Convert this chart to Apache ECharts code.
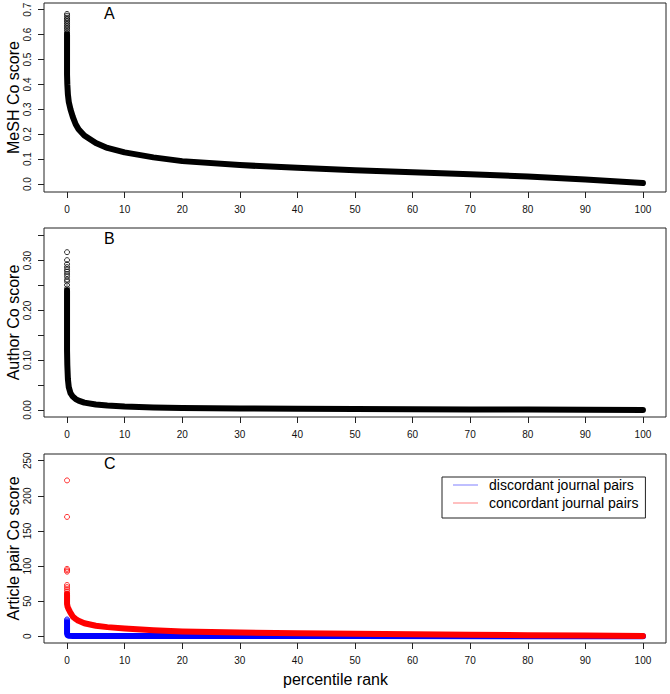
<!DOCTYPE html>
<html>
<head>
<meta charset="utf-8">
<script src="https://cdn.jsdelivr.net/npm/echarts@6/dist/echarts.min.js"></script>
<style>html,body{margin:0;padding:0;background:#fff}#c{width:670px;height:694px}</style>
</head>
<body>
<div id="c"></div>
<script>
// ---- data ----
const xTicks = [0,10,20,30,40,50,60,70,80,90,100];

// Panel A: MeSH Co score
const pctA   = [0, 0, 0.05, 0.15, 0.3, 0.6, 1, 1.5, 2, 3, 5, 7, 10, 15, 20, 30, 40, 50, 60, 70, 80, 90, 100];
const meshA  = [0.60, 0.44, 0.40, 0.36, 0.33, 0.30, 0.27, 0.24, 0.22, 0.195, 0.165, 0.145, 0.127, 0.107, 0.092, 0.076, 0.065, 0.055, 0.047, 0.039, 0.030, 0.018, 0.004];
const outPctA = [0,0,0,0,0,0,0,0,0,0,0,0];
const outA   = [0.683, 0.676, 0.668, 0.662, 0.655, 0.648, 0.641, 0.634, 0.627, 0.620, 0.612, 0.605];
const yTicksA = [0,0.1,0.2,0.3,0.4,0.5,0.6,0.7];

// Panel B: Author Co score
const pctB   = [0, 0, 0.05, 0.15, 0.3, 0.6, 1, 1.5, 2, 3, 5, 7, 10, 15, 20, 30, 40, 50, 60, 70, 80, 90, 100];
const authB  = [0.24, 0.12, 0.09, 0.062, 0.046, 0.034, 0.027, 0.022, 0.019, 0.0148, 0.011, 0.009, 0.007, 0.0052, 0.0042, 0.0032, 0.0026, 0.0021, 0.0017, 0.0013, 0.0009, 0.0005, 0.0001];
const outPctB = [0,0,0,0,0,0,0,0,0,0,0,0];
const outB   = [0.317, 0.301, 0.293, 0.287, 0.282, 0.278, 0.273, 0.268, 0.262, 0.258, 0.251, 0.244];
const yTicksB = [0,0.05,0.1,0.15,0.2,0.25,0.3,0.35];
const yLabelsB = [0,0.1,0.2,0.3];

// Panel C: Article pair Co score
const pctC     = [0, 0, 0.1, 0.25, 0.5, 1, 1.5, 2, 3, 5, 7, 10, 15, 20, 30, 40, 50, 60, 70, 80, 90, 100];
const concordC = [60, 46, 42, 39, 35, 28, 24.5, 22, 18.5, 15, 13, 11, 8.5, 6.8, 5.2, 4.2, 3.4, 2.7, 2.1, 1.6, 1.1, 0.5];
const pctD     = [0, 0, 0.1, 0.3, 1, 5, 20, 50, 100];
const discordC = [20, 4, 1.5, 0.8, 0.5, 0.4, 0.3, 0.2, 0.1];
const outPctRed = [0,0,0,0,0,0,0,0,0,0];
const outRed    = [222, 170, 96, 94, 92, 73, 70, 67, 64, 61];
const outPctBlue = [0,0,0];
const outBlue    = [24, 22.5, 21];
const yTicksC = [0,50,100,150,200,250];

const seriesNames = ['discordant journal pairs', 'concordant journal pairs'];

// ---- helpers ----
const zip = (xs, ys) => xs.map((x, i) => [x, ys[i]]);
const FONT = 'Liberation Sans, Arial, sans-serif';
const grids = [
  {left: 44, top: 3,   width: 622, height: 189},
  {left: 44, top: 228, width: 622, height: 189},
  {left: 44, top: 454, width: 622, height: 189}
].map(g => Object.assign(g, {show: true, borderColor: '#222', borderWidth: 1, backgroundColor: 'transparent',
                              containLabel: false, outerBoundsMode: 'none'}));

function xAxis(i) {
  return {
    type: 'value', gridIndex: i, min: -4, max: 104, position: 'bottom',
    axisLine: {show: false, onZero: false},
    axisTick: {show: true, inside: false, length: 6, customValues: xTicks, lineStyle: {color: '#222'}},
    axisLabel: {show: true, customValues: xTicks, margin: 12, fontSize: 10, fontFamily: FONT, color: '#111'},
    splitLine: {show: false}
  };
}
function yAxis(i, min, max, ticks, labels, fmt, name) {
  return {
    type: 'value', gridIndex: i, min: min, max: max, position: 'left',
    name: name, nameLocation: 'middle', nameRotate: 90, nameGap: 23, nameMoveOverlap: false,
    nameTextStyle: {fontSize: 16, fontFamily: FONT, color: '#000'},
    axisLine: {show: false, onZero: false},
    axisTick: {show: true, inside: false, length: 6, customValues: ticks, lineStyle: {color: '#222'}},
    axisLabel: {show: true, customValues: labels, rotate: 90, margin: 12, fontSize: 10, fontFamily: FONT, color: '#111', formatter: fmt},
    splitLine: {show: false}
  };
}
function thick(i, data, color, name) {
  return {
    type: 'line', name: name, xAxisIndex: i, yAxisIndex: i, data: data,
    symbol: 'none', smooth: false, clip: false, animation: false,
    lineStyle: {color: color, width: 6, cap: 'round', join: 'round'},
    itemStyle: {color: color}, z: 3
  };
}
function circles(i, data, color) {
  return {
    type: 'scatter', xAxisIndex: i, yAxisIndex: i, data: data,
    symbol: 'circle', symbolSize: 5, clip: false, animation: false,
    itemStyle: {color: 'rgba(0,0,0,0)', borderColor: color, borderWidth: 1}, z: 4
  };
}

const chart = echarts.init(document.getElementById('c'), null, {renderer: 'svg', width: 670, height: 694});
chart.setOption({
  backgroundColor: '#fff',
  animation: false,
  grid: grids,
  title: [
    {text: 'A', left: 104, top: 5, padding: 0, textStyle: {fontSize: 16, fontWeight: 'normal', fontFamily: FONT, color: '#000'}},
    {text: 'B', left: 104, top: 230, padding: 0, textStyle: {fontSize: 16, fontWeight: 'normal', fontFamily: FONT, color: '#000'}},
    {text: 'C', left: 104, top: 455, padding: 0, textStyle: {fontSize: 16, fontWeight: 'normal', fontFamily: FONT, color: '#000'}}
  ],
  legend: {
    orient: 'vertical', left: 442, top: 477,
    data: [
      {name: seriesNames[0], itemStyle: {color: '#7f7fff'}},
      {name: seriesNames[1], itemStyle: {color: '#ff8080'}}
    ],
    icon: 'rect', itemWidth: 25, itemHeight: 1, itemGap: 2,
    padding: [0, 7, 7, 11],
    borderColor: '#222', borderWidth: 1, backgroundColor: '#fff',
    textStyle: {fontSize: 14, fontFamily: FONT, color: '#000', lineHeight: 16, padding: [0, 0, 0, 6]},
    selectedMode: false
  },
  xAxis: [xAxis(0), xAxis(1), xAxis(2)],
  yAxis: [
    yAxis(0, -0.032, 0.727, yTicksA, yTicksA, v => v.toFixed(1), 'MeSH Co score'),
    yAxis(1, -0.014, 0.3655, yTicksB, yLabelsB, v => v.toFixed(2), 'Author Co score'),
    yAxis(2, -9.6, 259.6, yTicksC, yTicksC, v => String(v), 'Article pair Co score')
  ],
  graphic: [
    {type: 'text', left: 283, top: 671, style: {text: 'percentile rank', font: '16px ' + FONT, fill: '#000'}}
  ],
  series: [
    thick(0, zip(pctA, meshA), '#000'),
    circles(0, zip(outPctA, outA), '#000'),
    thick(1, zip(pctB, authB), '#000'),
    circles(1, zip(outPctB, outB), '#000'),
    thick(2, zip(pctD, discordC), '#0000ff', seriesNames[0]),
    circles(2, zip(outPctBlue, outBlue), '#0000ff'),
    thick(2, zip(pctC, concordC), '#ff0000', seriesNames[1]),
    circles(2, zip(outPctRed, outRed), '#ff0000')
  ]
});
</script>
</body>
</html>
